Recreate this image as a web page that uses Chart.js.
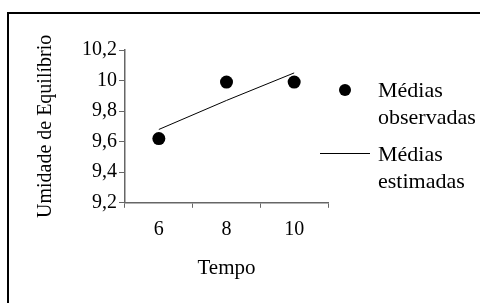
<!DOCTYPE html>
<html>
<head>
<meta charset="utf-8">
<script src="https://cdn.jsdelivr.net/npm/chart.js@4/dist/chart.umd.min.js"></script>
<style>
  html, body { margin: 0; padding: 0; background: #fff; }
  #wrap { position: relative; width: 480px; height: 303px; overflow: hidden; }
  #frame { position: absolute; left: 7px; top: 12px; width: 600px; height: 400px;
           border-top: 2px solid #000; border-left: 2px solid #000; }
  #chart { position: absolute; left: 0; top: 0; }
  #legend { position: absolute; left: 320px; top: 76px; font-family: "Liberation Serif", serif;
            font-size: 22px; line-height: 27px; color: #000; }
  .item { position: relative; padding-left: 58px; margin-bottom: 10px; }
  .sym-dot { position: absolute; left: 19px; top: 8px; width: 12px; height: 12px; border-radius: 50%; background: #000; }
  .sym-line { position: absolute; left: 0; top: 13px; width: 50px; border-top: 1px solid #000; }
</style>
</head>
<body>
<div id="wrap">
  <div id="frame"></div>
  <canvas id="chart" width="480" height="303"></canvas>
  <div id="legend"></div>
</div>
<script>
// data
const categories = ['6', '8', '10'];
const observadas = [9.62, 9.99, 9.99];
const estimadas = [9.68, 9.87, 10.05];
const yTicks = [9.2, 9.4, 9.6, 9.8, 10, 10.2];
const seriesNames = [['Médias', 'observadas'], ['Médias', 'estimadas']];

const chart = new Chart('chart', {
    type: 'line',
    data: {
        labels: categories,
        datasets: [{
            label: seriesNames[0].join(' '),
            data: observadas,
            showLine: false,
            pointRadius: 6.5,
            pointBackgroundColor: '#000',
            pointBorderWidth: 0,
            borderColor: '#000'
        }, {
            label: seriesNames[1].join(' '),
            data: estimadas,
            pointRadius: 0,
            borderWidth: 1,
            borderColor: '#000',
            tension: 0
        }]
    },
    options: {
        responsive: false,
        animation: false,
        layout: { padding: { left: 30, right: 152, top: 50, bottom: 18 } },
        plugins: { legend: { display: false }, tooltip: { enabled: false } },
        scales: {
            x: {
                offset: true,
                grid: { offset: true, drawOnChartArea: false, tickLength: 5, color: '#666' },
                border: { color: '#666', width: 1.5 },
                ticks: { color: '#000', padding: 10, font: { family: 'Liberation Serif', size: 20 } },
                title: { display: true, text: 'Tempo', color: '#000', padding: { top: 4 },
                         font: { family: 'Liberation Serif', size: 21 } }
            },
            y: {
                min: 9.2, max: 10.2,
                afterBuildTicks: s => { s.ticks = yTicks.map(v => ({ value: v })); },
                grid: { drawOnChartArea: false, tickLength: 6, color: '#666' },
                border: { color: '#666', width: 1.5 },
                ticks: { color: '#000', padding: 2,
                         callback: v => String(Math.round(v * 10) / 10).replace('.', ','),
                         font: { family: 'Liberation Serif', size: 20 } },
                title: { display: true, text: 'Umidade de Equilíbrio', color: '#000', padding: { bottom: 22 },
                         font: { family: 'Liberation Serif', size: 20 } }
            }
        }
    }
});

// html legend from the datasets
const legend = document.getElementById('legend');
chart.data.datasets.forEach((ds, i) => {
    const item = document.createElement('div');
    item.className = 'item';
    const sym = document.createElement('span');
    sym.className = ds.showLine === false ? 'sym-dot' : 'sym-line';
    item.appendChild(sym);
    seriesNames[i].forEach(line => {
        const d = document.createElement('div');
        d.textContent = line;
        item.appendChild(d);
    });
    legend.appendChild(item);
});
</script>
</body>
</html>
